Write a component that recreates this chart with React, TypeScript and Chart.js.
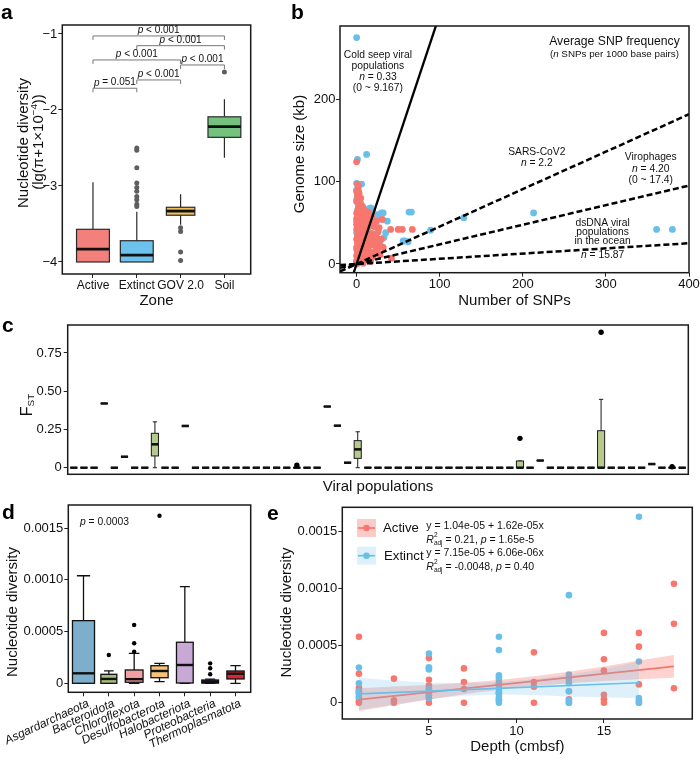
import React, { useEffect, useRef } from 'react';
import { Chart, registerables } from 'chart.js';

Chart.register(...registerables);

const FONT = "'Liberation Sans', Arial, Helvetica, sans-serif";
Chart.defaults.font.family = FONT;
Chart.defaults.color = '#111';

/* ---------------- panel a ---------------- */
const zoneLabels = ['Active', 'Extinct', 'GOV 2.0', 'Soil'];
const zoneLower = [-4.0, -4.0, -3.51, -2.63];
const zoneQ1 = [-4.0, -4.0, -3.385, -2.36];
const zoneMedian = [-3.83, -3.91, -3.33, -2.22];
const zoneQ3 = [-3.57, -3.72, -3.28, -2.09];
const zoneUpper = [-2.95, -3.34, -3.11, -1.86];
const zoneWidth = [0.75, 0.75, 0.65, 0.75];
const zoneColors = ['#F3807A', '#6CC2EC', '#EDBF5F', '#73C27D'];
const extinctOutliers = [-2.5, -2.53, -2.76, -2.96, -3.02, -3.07, -3.14, -3.18, -3.24, -3.27];
const govOutliers = [-3.55, -3.6, -3.87, -3.98];
const soilOutliers = [-1.5];
const sigFrom = [1, 2, 1, 3, 2, 1];
const sigTo = [4, 4, 3, 4, 3, 2];
const sigY = [-1.026, -1.154, -1.342, -1.408, -1.605, -1.714];
const sigText = [' < 0.001', ' < 0.001', ' < 0.001', ' < 0.001', ' < 0.001', ' = 0.051'];
const zoneTicksY = [-4, -3, -2, -1];

/* ---------------- panel b ---------------- */
const snpActive: [number, number][] = [
  [0, 124], [1, 97], [2, 90], [3, 86], [1, 83], [5, 80], [0, 76], [4, 72], [7, 70], [2, 67],
  [10, 64], [14, 63], [0, 62], [5, 60], [8, 58], [3, 56], [12, 55], [24, 52], [31, 54], [1, 52],
  [6, 50], [10, 48], [15, 47], [20, 46], [2, 45], [22, 45], [41, 42], [50, 42], [55, 42], [67, 42],
  [0, 42], [5, 41], [9, 40], [26, 39], [13, 38], [18, 37], [3, 36], [7, 35], [1, 34], [11, 33],
  [16, 32], [24, 32], [0, 30], [4, 29], [8, 28], [20, 27], [13, 26], [2, 25], [6, 24], [17, 23],
  [22, 22], [10, 21], [0, 20], [4, 19], [14, 18], [25, 17], [8, 16], [1, 15], [19, 14], [11, 13],
  [5, 12], [28, 11], [0, 10], [15, 9], [20, 9], [3, 8], [9, 7], [42, 7], [23, 15], [1, 5],
  [12, 5], [6, 4], [0, 3], [17, 3], [3, 2], [8, 1], [0, 0], [2, 44], [6, 56], [9, 62],
  [4, 66], [0, 88], [2, 95], [16, 52], [18, 58], [27, 44], [30, 30], [12, 44], [0, 48], [3, 40],
  [6, 31], [9, 22], [21, 33], [26, 24], [32, 20], [0, 55], [1, 26], [2, 12],
];
const snpExtinct: [number, number][] = [
  [0, 275], [1, 127], [12, 133], [0, 98], [6, 97], [2, 94], [0, 90], [1, 80], [0, 78], [3, 75],
  [5, 74], [2, 71], [8, 68], [14, 67], [17, 68], [20, 62], [26, 60], [30, 62], [32, 62], [63, 63],
  [66, 63], [129, 56], [213, 62], [89, 41], [361, 42], [380, 42], [56, 28], [62, 27], [37, 52], [35, 38],
  [33, 32], [28, 28], [29, 22], [58, 28], [1, 65], [4, 60], [10, 58], [7, 55], [0, 52], [3, 48],
  [11, 45], [18, 56], [0, 38], [5, 34], [2, 28], [0, 18], [8, 35], [14, 40], [22, 36], [1, 10],
  [3, 20], [6, 14], [0, 4], [24, 58], [16, 48], [20, 50], [12, 29],
];
const snpRateN = [0.33, 2.2, 4.2, 15.87];
const snpTicksX = [0, 100, 200, 300, 400];
const genomeTicksY = [0, 100, 200];

/* ---------------- panel c ---------------- */
const fstMedian = [0, 0, 0, 0.42, 0, 0.072, 0, 0, 0.153, 0, 0, 0.273, 0, 0, 0, 0, 0, 0, 0, 0, 0, 0, 0, 0, 0, 0.4, 0.275, 0.033, 0.12, 0, 0, 0, 0, 0, 0, 0, 0, 0, 0, 0, 0, 0, 0, 0, 0, 0, 0.047, 0, 0, 0, 0, 0, 0, 0, 0, 0, 0, 0.024, 0, 0, 0];
const fstQ1 = [0, 0, 0, 0.42, 0, 0.072, 0, 0, 0.077, 0, 0, 0.273, 0, 0, 0, 0, 0, 0, 0, 0, 0, 0, 0, 0, 0, 0.4, 0.275, 0.033, 0.061, 0, 0, 0, 0, 0, 0, 0, 0, 0, 0, 0, 0, 0, 0, 0, 0, 0, 0.047, 0, 0, 0, 0, 0, 0, 0, 0, 0, 0, 0.024, 0, 0, 0];
const fstQ3 = [0, 0, 0, 0.42, 0, 0.072, 0, 0, 0.225, 0, 0, 0.273, 0, 0, 0, 0, 0, 0, 0, 0, 0, 0, 0, 0, 0, 0.4, 0.275, 0.033, 0.177, 0, 0, 0, 0, 0, 0, 0, 0, 0, 0, 0, 0, 0, 0, 0, 0.044, 0, 0.047, 0, 0, 0, 0, 0, 0.242, 0, 0, 0, 0, 0.024, 0, 0, 0];
const fstLower = [0, 0, 0, 0.42, 0, 0.072, 0, 0, 0, 0, 0, 0.273, 0, 0, 0, 0, 0, 0, 0, 0, 0, 0, 0, 0, 0, 0.4, 0.275, 0.033, 0, 0, 0, 0, 0, 0, 0, 0, 0, 0, 0, 0, 0, 0, 0, 0, 0, 0, 0.047, 0, 0, 0, 0, 0, 0, 0, 0, 0, 0, 0.024, 0, 0, 0];
const fstUpper = [0, 0, 0, 0.42, 0, 0.072, 0, 0, 0.3, 0, 0, 0.273, 0, 0, 0, 0, 0, 0, 0, 0, 0, 0, 0, 0, 0, 0.4, 0.275, 0.033, 0.235, 0, 0, 0, 0, 0, 0, 0, 0, 0, 0, 0, 0, 0, 0, 0, 0.044, 0, 0.047, 0, 0, 0, 0, 0, 0.447, 0, 0, 0, 0, 0.024, 0, 0, 0];
const fstOutlierPop = [23, 45, 53, 60];
const fstOutlierValue = [0.016, 0.192, 0.886, 0.006];
const fstTicksY = [0, 0.25, 0.5, 0.75];

/* ---------------- panel d ---------------- */
const phylaLabels = ['Asgardarchaeota', 'Bacteroidota', 'Chloroflexota', 'Desulfobacterota', 'Halobacteriota', 'Proteobacteria', 'Thermoplasmatota'];
const phylaLower = [0, 0, 0, 0.000016, 0, 0, 0];
const phylaQ1 = [0, 0, 0.00001, 0.000054, 0.000003, 0.000002, 0.000042];
const phylaMedian = [0.0000967, 0.000042, 0.00004, 0.000119, 0.000177, 0.000013, 0.000093];
const phylaQ3 = [0.000606, 0.000087, 0.000129, 0.00017, 0.000397, 0.000032, 0.000119];
const phylaUpper = [0.00104, 0.00012, 0.00029, 0.000193, 0.000934, 0.00004, 0.00017];
const phylaWidth = [0.87, 0.63, 0.7, 0.68, 0.66, 0.66, 0.68];
const phylaColors = ['#7DAFCD', '#A6BE7B', '#F4A0A2', '#F6C27A', '#C8A8D4', '#2C2C6C', '#D6282E'];
const phylaOutlierGroup = [2, 3, 3, 3, 4, 6, 6, 6];
const phylaOutlierValue = [0.000274, 0.000564, 0.000387, 0.000306, 0.00162, 0.000193, 0.000145, 0.000087];
const diversityTicks = [0, 0.0005, 0.001, 0.0015];

/* ---------------- panel e ---------------- */
const depthActive: [number, number][] = [
  [1, 0.000577], [1, 0.000254], [1, 0.00013], [1, 0.00011], [1, 0.00008], [1, 0.00004], [1, 0.00001], [1, 0],
  [3, 0.00021], [3, 0.00002], [3, 0],
  [5, 0.00039], [5, 0.0002], [5, 0.00015], [5, 0.00011], [5, 0.00007], [5, 0.00004], [5, 0],
  [7, 0.0003], [7, 0.00018], [7, 0.00012], [7, 0],
  [9, 0.00016], [9, 0.00008], [9, 0.00003],
  [11, 0.00044], [11, 0.00018], [11, 0.00014], [11, 0],
  [13, 0.0001], [13, 0.00003], [13, 0],
  [15, 0.00061], [15, 0.00038], [15, 0.00028], [15, 0.00007], [15, 0.00003], [15, 0],
  [17, 0.00061], [17, 0.00049], [17, 0.00016], [17, 0.00002], [17, 0],
  [19, 0.00104], [19, 0.00069], [19, 0.000126],
];
const depthExtinct: [number, number][] = [
  [1, 0.000308], [1, 0.00017], [1, 0.0001], [1, 0.00008], [1, 0.00005],
  [5, 0.00043], [5, 0.00031], [5, 0.0003], [5, 0.00029], [5, 0.00012], [5, 0.00007], [5, 0.00004],
  [9, 0.000577], [9, 0.00046], [9, 0.00024], [9, 0.00022], [9, 0.0002], [9, 0.00017], [9, 0.00013], [9, 0.0001], [9, 0.00008], [9, 0.00005], [9, 0.00002], [9, 0],
  [13, 0.00094], [13, 0.000247], [13, 0.0002], [13, 0.00017], [13, 0.0001], [13, 0.00002], [13, 0],
  [17, 0.001626], [17, 0.00036], [17, 0.00004], [17, 0],
];
const activeFitX = [1, 19];
const activeFitY = [0.0000266, 0.0003182];
const extinctFitX = [1, 17];
const extinctFitY = [0.0000776, 0.0001745];
const activeBandX = [1, 3, 5, 7, 9, 11, 13, 15, 17, 19];
const activeBandLo = [-0.000073, -0.000023, 0.000027, 0.000074, 0.000114, 0.000147, 0.000171, 0.000189, 0.000204, 0.000218];
const activeBandHi = [0.000127, 0.000141, 0.000155, 0.000174, 0.000198, 0.000231, 0.000271, 0.000317, 0.000368, 0.000418];
const extinctBandX = [1, 3, 5, 7, 9, 11, 13, 15, 17];
const extinctBandLo = [-0.000062, -0.000015, 0.00003, 0.00006, 0.000072, 0.000068, 0.000055, 0.000045, 0.00004];
const extinctBandHi = [0.000217, 0.000195, 0.000174, 0.000172, 0.00018, 0.000206, 0.000245, 0.000295, 0.00036];
const depthTicksX = [5, 10, 15];
const fitLabels = ['y = 1.04e-05 + 1.62e-05x', 'y = 7.15e-05 + 6.06e-06x'];
const fitR2 = [' = 0.21, ', ' = -0.0048, '];
const fitP = [' = 1.65e-5', ' = 0.40'];

/* ---------------- helpers ---------------- */
const RED = '#F8766D';
const BLUE = '#68C0EA';

type Geo = { left: number; top: number; width: number; height: number; l: number; t: number; r: number; b: number };
const geoA: Geo = { left: 0, top: 0, width: 258, height: 310, l: 62.3, t: 25, r: 250.7, b: 274 };
const geoB: Geo = { left: 262, top: 0, width: 438, height: 310, l: 340, t: 26, r: 689, b: 272.7 };
const geoC: Geo = { left: 0, top: 310, width: 700, height: 185, l: 67.7, t: 325, r: 688.3, b: 474.3 };
const geoD: Geo = { left: 0, top: 495, width: 258, height: 264, l: 68.3, t: 505, r: 250.7, b: 692.3 };
const geoE: Geo = { left: 262, top: 495, width: 438, height: 264, l: 342.3, t: 507.3, r: 692.3, b: 719 };

type Seg = { t: string; it?: boolean; k?: number; dy?: number; noAdv?: boolean };
function drawRich(ctx: CanvasRenderingContext2D, segs: Seg[], x: number, y: number, size: number, align: 'left' | 'center' | 'right', color = '#111') {
  const fontOf = (s: Seg) => `${s.it ? 'italic ' : ''}${(size * (s.k ?? 1)).toFixed(2)}px ${FONT}`;
  let w = 0;
  for (const s of segs) {
    ctx.font = fontOf(s);
    if (!s.noAdv) w += ctx.measureText(s.t).width;
  }
  let cx = align === 'left' ? x : align === 'center' ? x - w / 2 : x - w;
  ctx.fillStyle = color;
  ctx.textBaseline = 'middle';
  ctx.textAlign = 'left';
  for (const s of segs) {
    ctx.font = fontOf(s);
    ctx.fillText(s.t, cx, y + (s.dy ?? 0));
    if (!s.noAdv) cx += ctx.measureText(s.t).width;
  }
}
function rotText(ctx: CanvasRenderingContext2D, segs: Seg[], x: number, y: number, size: number) {
  ctx.save();
  ctx.translate(x, y);
  ctx.rotate(-Math.PI / 2);
  drawRich(ctx, segs, 0, 0, size, 'center');
  ctx.restore();
}

type BoxStat = { x: number; lo: number; q1: number; med: number; q3: number; hi: number; w: number; fill: string };
function drawBoxplots(chart: any, boxes: BoxStat[], st: { border: string; lw: number; medLw: number; cap: number }) {
  const { ctx } = chart;
  const xs = chart.scales.x;
  const ys = chart.scales.y;
  const Y = (v: number) => ys.getPixelForValue(v);
  ctx.save();
  for (const b of boxes) {
    const cx = xs.getPixelForValue(b.x);
    const hw = Math.abs(xs.getPixelForValue(b.x + b.w / 2) - cx);
    ctx.strokeStyle = st.border;
    ctx.lineWidth = st.lw;
    ctx.beginPath();
    ctx.moveTo(cx, Y(b.hi));
    ctx.lineTo(cx, Y(b.q3));
    ctx.moveTo(cx, Y(b.q1));
    ctx.lineTo(cx, Y(b.lo));
    if (st.cap > 0) {
      const cw = hw * st.cap;
      ctx.moveTo(cx - cw, Y(b.hi));
      ctx.lineTo(cx + cw, Y(b.hi));
      ctx.moveTo(cx - cw, Y(b.lo));
      ctx.lineTo(cx + cw, Y(b.lo));
    }
    ctx.stroke();
    const top = Y(b.q3);
    const bot = Y(b.q1);
    ctx.fillStyle = b.fill;
    ctx.fillRect(cx - hw, top, 2 * hw, bot - top);
    ctx.strokeRect(cx - hw, top, 2 * hw, bot - top);
    ctx.lineWidth = st.medLw;
    ctx.strokeStyle = '#111';
    ctx.beginPath();
    ctx.moveTo(cx - hw, Y(b.med));
    ctx.lineTo(cx + hw, Y(b.med));
    ctx.stroke();
  }
  ctx.restore();
}

const framePlugin = {
  id: 'frame',
  afterDatasetsDraw(chart: any) {
    const { ctx, chartArea: a } = chart;
    ctx.save();
    ctx.strokeStyle = '#1a1a1a';
    ctx.lineWidth = 1.5;
    ctx.strokeRect(a.left, a.top, a.right - a.left, a.bottom - a.top);
    ctx.restore();
  },
};

function common(g: Geo) {
  return {
    animation: false,
    responsive: false,
    maintainAspectRatio: false,
    devicePixelRatio: 1,
    events: [],
    layout: { padding: { left: 0, top: g.t - g.top, right: g.left + g.width - g.r, bottom: 0 } },
    plugins: { legend: { display: false }, tooltip: { enabled: false } },
  };
}

type AxisOpt = {
  min: number; max: number; ticks: number[]; label?: (v: number) => string; title?: string; titlePad?: number;
  show?: boolean; rotation?: number; italic?: boolean; pad?: number; labelOffset?: number; size?: number;
};
function xAxis(g: Geo, o: AxisOpt) {
  const show = o.show !== false;
  return {
    type: 'linear', position: 'bottom', min: o.min, max: o.max,
    afterBuildTicks: (s: any) => { s.ticks = o.ticks.map((v) => ({ value: v })); },
    afterFit: (s: any) => { s.height = g.top + g.height - g.b; s.paddingLeft = 0; s.paddingRight = 0; s.paddingTop = 0; s.paddingBottom = 0; },
    grid: { display: show, drawOnChartArea: false, drawTicks: true, tickLength: 4, tickColor: '#222', tickWidth: 1 },
    border: { display: false },
    ticks: {
      display: show, autoSkip: false, maxRotation: o.rotation || 0, minRotation: o.rotation || 0,
      padding: o.pad ?? 0, labelOffset: o.labelOffset ?? 0, color: '#111',
      font: { size: o.size ?? 13, style: o.italic ? 'italic' : 'normal' },
      callback: (v: number) => (o.label ? o.label(v) : String(v)),
    },
    title: o.title
      ? { display: true, text: o.title, color: '#111', font: { size: 15, lineHeight: 1 }, padding: { top: 0, bottom: o.titlePad ?? 0 } }
      : { display: false },
  };
}
function yAxis(g: Geo, o: AxisOpt) {
  return {
    type: 'linear', position: 'left', min: o.min, max: o.max,
    afterBuildTicks: (s: any) => { s.ticks = o.ticks.map((v) => ({ value: v })); },
    afterFit: (s: any) => { s.width = g.l - g.left; s.paddingLeft = 0; s.paddingRight = 0; s.paddingTop = 0; s.paddingBottom = 0; },
    grid: { display: true, drawOnChartArea: false, drawTicks: true, tickLength: 4, tickColor: '#222', tickWidth: 1 },
    border: { display: false },
    ticks: { autoSkip: false, padding: o.pad ?? 1, color: '#111', font: { size: 13 }, callback: (v: number) => (o.label ? o.label(v) : String(v)) },
    title: { display: false },
  };
}

const divLabel = (v: number) => (v === 0 ? '0' : v.toFixed(4));

/* ---------------- chart configs ---------------- */
function makeA() {
  const g = geoA;
  const boxes: BoxStat[] = zoneLabels.map((_, i) => ({
    x: i + 1, lo: zoneLower[i], q1: zoneQ1[i], med: zoneMedian[i], q3: zoneQ3[i], hi: zoneUpper[i], w: zoneWidth[i], fill: zoneColors[i],
  }));
  const outStyle = { backgroundColor: '#5e5e5e', pointRadius: 2.5, borderWidth: 0 };
  return {
    type: 'scatter',
    data: {
      datasets: [
        { data: extinctOutliers.map((v) => ({ x: 2, y: v })), ...outStyle },
        { data: govOutliers.map((v) => ({ x: 3, y: v })), ...outStyle },
        { data: soilOutliers.map((v) => ({ x: 4, y: v })), ...outStyle },
      ],
    },
    options: {
      ...common(g),
      scales: {
        x: xAxis(g, { min: 0.3, max: 4.6, ticks: [1, 2, 3, 4], label: (v) => zoneLabels[v - 1] ?? '', title: 'Zone', titlePad: 1.5, size: 12 }),
        y: yAxis(g, { min: -4.158, max: -0.882, ticks: zoneTicksY, label: (v) => '\u2212' + Math.abs(v) }),
      },
    },
    plugins: [
      {
        id: 'boxA',
        beforeDatasetsDraw(chart: any) { drawBoxplots(chart, boxes, { border: '#2a2a2a', lw: 1.2, medLw: 2.8, cap: 0 }); },
        afterDatasetsDraw(chart: any) {
          const { ctx } = chart;
          const xs = chart.scales.x;
          const ys = chart.scales.y;
          ctx.save();
          ctx.strokeStyle = '#777';
          ctx.lineWidth = 1;
          sigFrom.forEach((f, i) => {
            const x1 = xs.getPixelForValue(f);
            const x2 = xs.getPixelForValue(sigTo[i]);
            const yy = ys.getPixelForValue(sigY[i]);
            ctx.beginPath();
            ctx.moveTo(x1, yy + 4);
            ctx.lineTo(x1, yy);
            ctx.lineTo(x2, yy);
            ctx.lineTo(x2, yy + 4);
            ctx.stroke();
            drawRich(ctx, [{ t: 'p', it: true }, { t: sigText[i] }], (x1 + x2) / 2, yy - 5.5, 10, 'center');
          });
          rotText(ctx, [{ t: 'Nucleotide diversity' }], 24 - g.left, 143 - g.top, 15);
          rotText(ctx, [{ t: '(lg(\u03c0+1\u00d710' }, { t: '\u22124', k: 0.65, dy: -4 }, { t: '))' }], 38.5 - g.left, 142 - g.top, 15);
          ctx.restore();
        },
      },
      framePlugin,
    ],
  };
}

function makeB() {
  const g = geoB;
  const ptStyle = { pointRadius: 3.4, borderWidth: 0 };
  const lines = snpRateN.map((n, i) => ({
    type: 'line',
    data: [{ x: -20, y: -20 / n }, { x: 400, y: 400 / n }],
    borderColor: '#000', borderWidth: i === 0 ? 2.3 : 2.5, borderDash: i === 0 ? [] : [6, 3],
    pointRadius: 0, order: 1,
  }));
  return {
    type: 'scatter',
    data: {
      datasets: [
        { data: snpExtinct.map(([x, y]) => ({ x, y })), backgroundColor: BLUE, ...ptStyle, order: 3 },
        { data: snpActive.map(([x, y]) => ({ x, y })), backgroundColor: RED, ...ptStyle, order: 2 },
        ...lines,
      ],
    },
    options: {
      ...common(g),
      scales: {
        x: xAxis(g, { min: -20, max: 400, ticks: snpTicksX, title: 'Number of SNPs', titlePad: 1.5 }),
        y: yAxis(g, { min: -10.6, max: 289, ticks: genomeTicksY, pad: 0.5 }),
      },
    },
    plugins: [
      {
        id: 'annB',
        afterDatasetsDraw(chart: any) {
          const { ctx } = chart;
          const xs = chart.scales.x;
          const ys = chart.scales.y;
          const P = (x: number, y: number) => [xs.getPixelForValue(x), ys.getPixelForValue(y)];
          const fs = 10.3;
          const block = (x: number, y: number, lines: Seg[][], lh: number) => {
            const [px, py] = P(x, y);
            lines.forEach((segs, i) => drawRich(ctx, segs, px, py + i * lh, fs, 'center'));
          };
          ctx.save();
          block(25.6, 253.1, [[{ t: 'Cold seep viral' }], [{ t: 'populations' }], [{ t: 'n', it: true }, { t: ' = 0.33' }], [{ t: '(0 ~ 9.167)' }]], 11);
          block(216.8, 136, [[{ t: 'SARS-CoV2' }], [{ t: 'n', it: true }, { t: ' = 2.2' }]], 11.2);
          block(354, 129.2, [[{ t: 'Virophages' }], [{ t: 'n', it: true }, { t: ' = 4.20' }], [{ t: '(0 ~ 17.4)' }]], 11.5);
          block(296, 49.8, [[{ t: 'dsDNA viral' }], [{ t: 'populations' }], [{ t: 'in the ocean' }]], 9.2);
          block(296, 10.6, [[{ t: 'n', it: true }, { t: ' = 15.87' }]], 10);
          const [ax, ay] = P(310.3, 270);
          drawRich(ctx, [{ t: 'Average SNP frequency' }], ax, ay, 12.2, 'center');
          drawRich(ctx, [{ t: '(' }, { t: 'n', it: true }, { t: ' SNPs per 1000 base pairs)' }], ax, ay + 12.3, 9.8, 'center');
          rotText(ctx, [{ t: 'Genome size (kb)' }], 300 - g.left, 154 - g.top, 15);
          ctx.restore();
        },
      },
      framePlugin,
    ],
  };
}

function makeC() {
  const g = geoC;
  const boxes: BoxStat[] = fstMedian.map((m, i) => ({
    x: i + 1, lo: fstLower[i], q1: fstQ1[i], med: m, q3: fstQ3[i], hi: fstUpper[i], w: 0.7, fill: '#B4CB8D',
  }));
  return {
    type: 'scatter',
    data: {
      datasets: [
        { data: fstOutlierPop.map((p, i) => ({ x: p, y: fstOutlierValue[i] })), backgroundColor: '#000', pointRadius: 2.7, borderWidth: 0 },
      ],
    },
    options: {
      ...common(g),
      scales: {
        x: xAxis(g, { min: 0.4, max: fstMedian.length + 0.6, ticks: [], show: false, title: 'Viral populations', titlePad: 0.8 }),
        y: yAxis(g, { min: -0.043, max: 0.933, ticks: fstTicksY, label: (v) => (v === 0 ? '0' : v.toFixed(2)), pad: 2 }),
      },
    },
    plugins: [
      {
        id: 'boxC',
        beforeDatasetsDraw(chart: any) { drawBoxplots(chart, boxes, { border: '#1a1a1a', lw: 1, medLw: 2.6, cap: 0.6 }); },
        afterDatasetsDraw(chart: any) {
          const { ctx } = chart;
          rotText(ctx, [{ t: 'F' }, { t: 'ST', k: 0.62, dy: 3.5 }], 28 - g.left, 405 - g.top, 16);
        },
      },
      framePlugin,
    ],
  };
}

function makeD() {
  const g = geoD;
  const boxes: BoxStat[] = phylaLabels.map((_, i) => ({
    x: i + 1, lo: phylaLower[i], q1: phylaQ1[i], med: phylaMedian[i], q3: phylaQ3[i], hi: phylaUpper[i], w: phylaWidth[i], fill: phylaColors[i],
  }));
  return {
    type: 'scatter',
    data: {
      datasets: [
        { data: phylaOutlierGroup.map((gr, i) => ({ x: gr, y: phylaOutlierValue[i] })), backgroundColor: '#000', pointRadius: 2.2, borderWidth: 0 },
      ],
    },
    options: {
      ...common(g),
      scales: {
        x: xAxis(g, { min: 0.4, max: 7.6, ticks: [1, 2, 3, 4, 5, 6, 7], label: (v) => phylaLabels[v - 1] ?? '', rotation: 25, italic: true, size: 12, labelOffset: 5, pad: 0 }),
        y: yAxis(g, { min: -0.000087, max: 0.001724, ticks: diversityTicks, label: divLabel, pad: 1 }),
      },
    },
    plugins: [
      {
        id: 'boxD',
        beforeDatasetsDraw(chart: any) { drawBoxplots(chart, boxes, { border: '#111', lw: 1.3, medLw: 2.4, cap: 0.6 }); },
        afterDatasetsDraw(chart: any) {
          const { ctx, chartArea: a } = chart;
          drawRich(ctx, [{ t: 'p', it: true }, { t: ' = 0.0003' }], a.left + 11.7, a.top + 16.7, 10.3, 'left');
          rotText(ctx, [{ t: 'Nucleotide diversity' }], 12.5 - g.left, 612 - g.top, 15);
        },
      },
      framePlugin,
    ],
  };
}

function makeE() {
  const g = geoE;
  const pts = (arr: [number, number][]) => arr.map(([x, y]) => ({ x, y }));
  const zip = (xs: number[], ys: number[]) => xs.map((x, i) => ({ x, y: ys[i] }));
  const band = { type: 'line', borderWidth: 0, borderColor: 'rgba(0,0,0,0)', pointRadius: 0 };
  return {
    type: 'scatter',
    data: {
      datasets: [
        { data: pts(depthActive), backgroundColor: RED, pointRadius: 3.3, borderWidth: 0, order: 10 },
        { data: pts(depthExtinct), backgroundColor: BLUE, pointRadius: 3.3, borderWidth: 0, order: 9 },
        { ...band, data: zip(activeBandX, activeBandHi), fill: '+1', backgroundColor: 'rgba(248,118,109,0.33)', order: 6 },
        { ...band, data: zip(activeBandX, activeBandLo), fill: false, order: 6 },
        { type: 'line', data: zip(activeFitX, activeFitY), borderColor: RED, borderWidth: 1.7, pointRadius: 0, order: 5 },
        { ...band, data: zip(extinctBandX, extinctBandHi), fill: '+1', backgroundColor: 'rgba(104,192,234,0.22)', order: 4 },
        { ...band, data: zip(extinctBandX, extinctBandLo), fill: false, order: 4 },
        { type: 'line', data: zip(extinctFitX, extinctFitY), borderColor: BLUE, borderWidth: 1.7, pointRadius: 0, order: 3 },
      ],
    },
    options: {
      ...common(g),
      scales: {
        x: xAxis(g, { min: 0.05, max: 20.05, ticks: depthTicksX, title: 'Depth (cmbsf)', titlePad: 4.5, pad: 1 }),
        y: yAxis(g, { min: -0.0001425, max: 0.001708, ticks: diversityTicks, label: divLabel, pad: 1 }),
      },
    },
    plugins: [
      {
        id: 'legE',
        afterDatasetsDraw(chart: any) {
          const { ctx, chartArea: a } = chart;
          ctx.save();
          const keys = [
            { fill: 'rgba(248,118,109,0.38)', col: RED, top: 11.7, name: 'Active', tx: 40.7 },
            { fill: 'rgba(104,192,234,0.22)', col: BLUE, top: 39.4, name: 'Extinct', tx: 41.7 },
          ];
          keys.forEach((k, i) => {
            const kx = a.left + 14.7;
            const ky = a.top + k.top;
            ctx.fillStyle = k.fill;
            ctx.fillRect(kx, ky, 19, 18);
            ctx.strokeStyle = k.col;
            ctx.lineWidth = 1.7;
            ctx.beginPath();
            ctx.moveTo(kx + 1, ky + 9);
            ctx.lineTo(kx + 18, ky + 9);
            ctx.stroke();
            ctx.fillStyle = k.col;
            ctx.beginPath();
            ctx.arc(kx + 9.5, ky + 9, 3.3, 0, Math.PI * 2);
            ctx.fill();
            drawRich(ctx, [{ t: k.name }], a.left + k.tx, ky + 9.5, 13.2, 'left');
            const ex = a.left + 84;
            const ey = a.top + 18.7 + i * 27;
            drawRich(ctx, [{ t: fitLabels[i] }], ex, ey, 10.5, 'left');
            drawRich(
              ctx,
              [
                { t: 'R', it: true },
                { t: '2', k: 0.62, dy: -5, noAdv: true },
                { t: 'adj', k: 0.62, dy: 3.5 },
                { t: fitR2[i] },
                { t: 'p', it: true },
                { t: fitP[i] },
              ],
              ex, ey + 14, 10.5, 'left',
            );
          });
          rotText(ctx, [{ t: 'Nucleotide diversity' }], 286.7 - g.left, 612.5 - g.top, 15);
          ctx.restore();
        },
      },
      framePlugin,
    ],
  };
}

/* ---------------- components ---------------- */
function ChartCanvas({ geo, make }: { geo: Geo; make: () => any }) {
  const ref = useRef<HTMLCanvasElement | null>(null);
  useEffect(() => {
    if (!ref.current) return;
    const chart = new Chart(ref.current, make());
    return () => chart.destroy();
  }, []);
  return (
    <canvas
      ref={ref}
      width={geo.width}
      height={geo.height}
      style={{ position: 'absolute', left: geo.left, top: geo.top, width: geo.width, height: geo.height }}
    />
  );
}

const panelTags = [
  { t: 'a', x: 1, y: 19 },
  { t: 'b', x: 291, y: 18.5 },
  { t: 'c', x: 2, y: 332 },
  { t: 'd', x: 2, y: 518.5 },
  { t: 'e', x: 267, y: 519.5 },
];

export default function App() {
  return (
    <div style={{ position: 'absolute', left: 0, top: 0, width: 700, height: 759, background: '#fff', overflow: 'hidden' }}>
      <ChartCanvas geo={geoA} make={makeA} />
      <ChartCanvas geo={geoB} make={makeB} />
      <ChartCanvas geo={geoC} make={makeC} />
      <ChartCanvas geo={geoD} make={makeD} />
      <ChartCanvas geo={geoE} make={makeE} />
      {panelTags.map((p) => (
        <div
          key={p.t}
          style={{ position: 'absolute', left: p.x, top: p.y - 18, font: `bold 21px ${FONT}`, lineHeight: '21px', color: '#000' }}
        >
          {p.t}
        </div>
      ))}
    </div>
  );
}
